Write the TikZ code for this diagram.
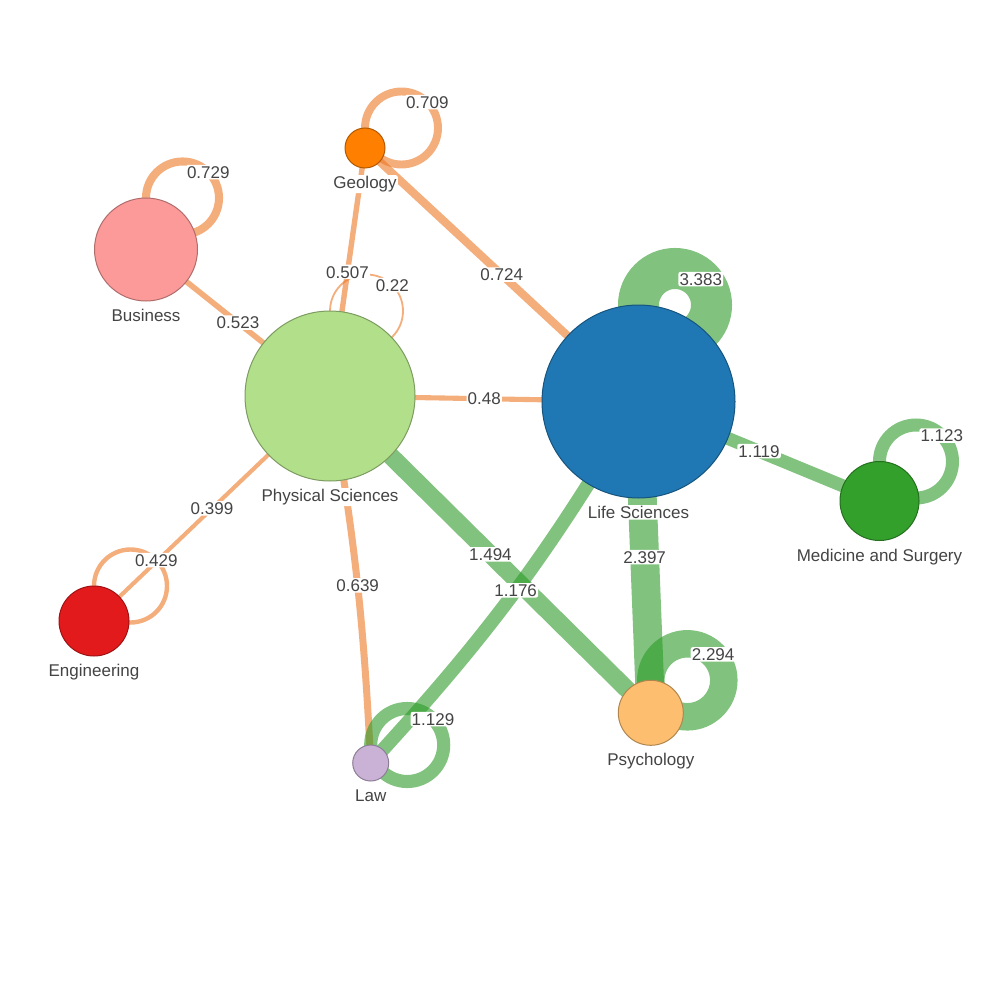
\documentclass[tikz,border=0pt]{standalone}
\usepackage{fontspec}
\setmainfont{Liberation Sans}
\usetikzlibrary{calc}
\definecolor{cGeo}{HTML}{FF7F00}
\definecolor{cBus}{HTML}{FB9A99}
\definecolor{cPhys}{HTML}{B2DF8A}
\definecolor{cLife}{HTML}{1F78B4}
\definecolor{cMed}{HTML}{33A02C}
\definecolor{cEng}{HTML}{E31A1C}
\definecolor{cLaw}{HTML}{CAB2D6}
\definecolor{cPsy}{HTML}{FDBF6F}
\definecolor{eOr}{RGB}{237,120,38}
\definecolor{eGr}{RGB}{45,155,40}
\definecolor{txt}{HTML}{444444}
\pgfdeclarelayer{bg}
\pgfsetlayers{bg,main}
\tikzset{
  vtx/.style={circle, inner sep=0pt, outer sep=0pt, line width=1pt},
  eo/.style={draw=eOr, draw opacity=0.6},
  eg/.style={draw=eGr, draw opacity=0.6},
  elab/.style={font=\fontsize{17}{20}\selectfont, text=txt, fill=white, rounded corners=2pt,
    inner xsep=1.1pt, inner ysep=1.1pt,
    text height=12.2pt, text depth=0pt, anchor=base, yshift=-6pt},
  nlab/.style={font=\fontsize{17}{20}\selectfont, text=txt, fill=white, rounded corners=2pt,
    inner xsep=1.1pt, inner ysep=1.1pt,
    text height=12.2pt, text depth=0pt, anchor=base},
  desc/.style={text depth=3.6pt},
}
\begin{document}
\begin{tikzpicture}[x=1pt,y=-1pt]
\begin{pgfonlayer}{bg}
\fill[white] (0,0) rectangle (1000,1000);
\end{pgfonlayer}
\useasboundingbox (0,0) rectangle (1000,1000);
% vertices
\node[vtx, fill=cGeo, draw=cGeo!70!black, minimum size=40pt] (geo) at (365,148) {};
\node[vtx, fill=cBus, draw=cBus!70!black, minimum size=103pt] (bus) at (146,249.5) {};
\node[vtx, fill=cPhys, draw=cPhys!70!black, minimum size=170pt] (phys) at (330,396) {};
\node[vtx, fill=cLife, draw=cLife!70!black, minimum size=193pt] (life) at (638.5,401.5) {};
\node[vtx, fill=cMed, draw=cMed!70!black, minimum size=79pt] (med) at (879.5,501) {};
\node[vtx, fill=cEng, draw=cEng!70!black, minimum size=70pt] (eng) at (94,621) {};
\node[vtx, fill=cLaw, draw=cLaw!70!black, minimum size=36pt] (law) at (370.7,763) {};
\node[vtx, fill=cPsy, draw=cPsy!70!black, minimum size=65pt] (psy) at (650.8,712.8) {};
% vertex labels
\node[nlab, desc] (geoL) at ($(geo.south)+(0,20.5)$) {Geology};
\node[nlab] (busL) at ($(bus.south)+(0,20.5)$) {Business};
\node[nlab, desc] (physL) at ($(phys.south)+(0,20.5)$) {Physical Sciences};
\node[nlab] (lifeL) at ($(life.south)+(0,20.5)$) {Life Sciences};
\node[nlab, desc] (medL) at ($(med.south)+(0,20.5)$) {Medicine and Surgery};
\node[nlab, desc] (engL) at ($(eng.south)+(0,20.5)$) {Engineering};
\node[nlab] (lawL) at ($(law.south)+(0,20.5)$) {Law};
\node[nlab, desc] (psyL) at ($(psy.south)+(0,20.5)$) {Psychology};
\begin{pgfonlayer}{bg}
% Physical Sciences loop
\draw[eo, line width=1.8pt] ($(phys.north)+(36.5,0)$) circle[radius=36.5];
\node[elab] (lphys) at ($(phys.north)+(62.3,-25.8)$) {0.22};
% Geology - Physical Sciences
\draw[eo, line width=5.4pt] (geo.center) -- node[elab] (e1) {0.507} (phys.center);
% Geology loop
\draw[eo, line width=7.9pt] ($(geo.north)+(36.5,0)$) circle[radius=36.5];
\node[elab] (lgeo) at ($(geo.north)+(62.3,-25.8)$) {0.709};
% Geology - Life Sciences
\draw[eo, line width=8.1pt] (geo.center) -- node[elab] (e2) {0.724} (life.center);
% Business loop
\draw[eo, line width=8.1pt] ($(bus.north)+(36.5,0)$) circle[radius=36.5];
\node[elab] (lbus) at ($(bus.north)+(62.3,-25.8)$) {0.729};
% Business - Physical Sciences
\draw[eo, line width=5.6pt] (bus.center) -- node[elab] (e3) {0.523} (phys.center);
% Physical - Life
\draw[eo, line width=5.1pt] (phys.center) -- node[elab] (e4) {0.48} (life.center);
% Physical - Engineering
\draw[eo, line width=4.1pt] (phys.center) -- node[elab] (e5) {0.399} (eng.center);
% Engineering loop
\draw[eo, line width=4.4pt] ($(eng.north)+(36.5,0)$) circle[radius=36.5];
\node[elab] (leng) at ($(eng.north)+(62.3,-25.8)$) {0.429};
% Life loop
\draw[eg, line width=41pt] ($(life.north)+(36.5,0)$) circle[radius=36.5];
\node[elab] (llife) at ($(life.north)+(62.3,-25.8)$) {3.383};
% Life - Medicine
\draw[eg, line width=13pt] (life.center) -- node[elab] (e6) {1.119} (med.center);
% Medicine loop
\draw[eg, line width=13pt] ($(med.north)+(36.5,0)$) circle[radius=36.5];
\node[elab] (lmed) at ($(med.north)+(62.3,-25.8)$) {1.123};
% Physical - Psychology
\draw[eg, line width=17.6pt] (phys.center) -- node[elab] (e7) {1.494} (psy.center);
% Life - Psychology
\draw[eg, line width=28.8pt] (life.center) -- node[elab] (e8) {2.397} (psy.center);
% Psychology loop
\draw[eg, line width=27.5pt] ($(psy.north)+(36.5,0)$) circle[radius=36.5];
\node[elab] (lpsy) at ($(psy.north)+(62.3,-25.8)$) {2.294};
% Physical - Law
\draw[eo, line width=7pt] (phys.center) to[bend left=3.5] node[elab, pos=0.52] (e9) {0.639} (law.center);
% Life - Law
\draw[eg, line width=13.7pt] (life.center) to[bend left=6] node[elab, midway] (e10) {1.176} (law.center);
% Law loop
\draw[eg, line width=13.1pt] ($(law.north)+(36.5,0)$) circle[radius=36.5];
\node[elab] (llaw) at ($(law.north)+(62.3,-25.8)$) {1.129};
\end{pgfonlayer}
\end{tikzpicture}
\end{document}
